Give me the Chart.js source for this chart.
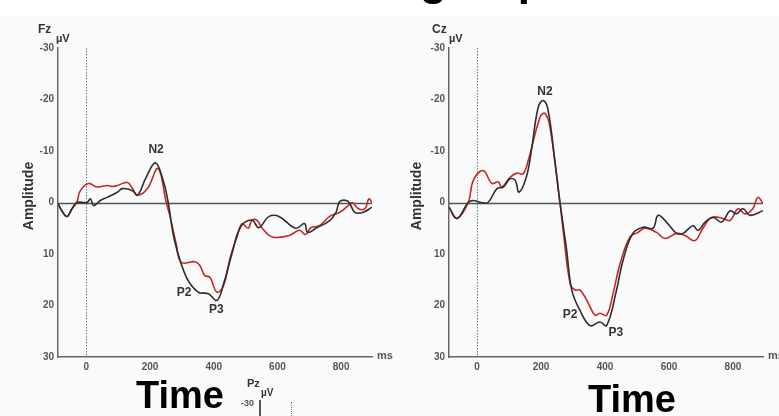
<!DOCTYPE html>
<html>
<head>
<meta charset="utf-8">
<script src="https://cdn.jsdelivr.net/npm/chart.js@4/dist/chart.umd.min.js"></script>
<style>
  body { margin:0; background:#fff; font-family:"Liberation Sans", Arial, sans-serif; }
  #wrap { position:relative; width:779px; height:416px; overflow:hidden; background:#fff; }
  #paper { position:absolute; left:0; top:16px; width:779px; height:400px; background:#fafafa; }
  canvas { position:absolute; top:0; }
  .t { position:absolute; white-space:nowrap; font-weight:bold; line-height:1; }
  .small { color:#333; font-size:12px; }
  .unit { color:#333; font-size:11px; }
  .big { color:#000; font-size:38px; }
  .amp { color:#333; font-size:14px; transform:rotate(-90deg); transform-origin:center; }
</style>
</head>
<body>
<div id="wrap">
  <div id="paper"></div>
  <canvas id="fzChart" width="390" height="376" style="left:0"></canvas>
  <canvas id="czChart" width="389" height="376" style="left:390px"></canvas>

  <div class="t big" style="left:420px; top:-42px; font-size:44px">group</div>

  <div class="t small" style="left:38px; top:23px">Fz</div>
  <div class="t unit" style="left:56px; top:33px">µV</div>
  <div class="t small" style="left:432px; top:23px">Cz</div>
  <div class="t unit" style="left:449px; top:33px">µV</div>

  <div class="t amp" style="left:-7px; top:189px; width:70px; text-align:center">Amplitude</div>
  <div class="t amp" style="left:381px; top:189px; width:70px; text-align:center">Amplitude</div>

  <div class="t unit" style="left:377px; top:350px; color:#555">ms</div>
  <div class="t unit" style="left:768px; top:350px; color:#555">ms</div>

  <div class="t big" style="left:136px; top:376px">Time</div>
  <div class="t big" style="left:588px; top:380px">Time</div>

  <div class="t unit" style="left:247px; top:378px">Pz</div>
  <div class="t" style="left:261px; top:388px; font-size:10px; color:#333">µV</div>
  <div class="t" style="left:241px; top:399px; font-size:9px; color:#555">-30</div>
  <div style="position:absolute; left:259px; top:400px; width:2px; height:16px; background:#555"></div>
  <div style="position:absolute; left:291px; top:402px; width:0; height:14px; border-left:1px dotted #777"></div>
</div>
<script>
// time axis ticks (ms) and amplitude ticks (µV, negative up)
const xTicks = [0, 200, 400, 600, 800];
const yTicks = [-30, -20, -10, 0, 10, 20, 30];
const peakLabels = ['N2', 'P2', 'P3'];

// Fz
const fzBlackTime = [-89,-75,-60,-45,-30,2,13,23,44,66,97,113,145,161,187,217,241,257,277,314,351,383,410,431,457,484,520,541,574,605,657,685,695,721,764,784,796,822,843,870,897];
const fzBlack = [0.2,1.8,2.7,1.2,0,0,-0.7,0.6,-0.4,-1,-2,-2.7,-2.3,-1.4,-4.8,-7.7,-4.3,0,7.4,14.5,17.4,17.7,19,15.8,10,4.8,3.4,4.9,2.7,2.7,5,4.1,5.8,5,3.5,1.9,-0.2,-0.2,1.9,1.9,0.9];
const fzRedTime = [-89,-75,-60,-45,-30,-19,7,34,66,81,97,129,145,161,192,225,251,262,282,298,341,356,372,388,410,431,452,473,489,508,520,537,552,584,637,669,688,705,732,764,796,822,835,854,875,887,897];
const fzRed = [0.2,1.8,2.7,1.2,0,-2.3,-3.7,-3,-3.3,-3.1,-3.3,-3.9,-2.7,-1.4,-2.7,-6.6,0,2.5,8,11.6,11.5,12.2,14.2,14.5,17.4,16.1,10.6,6.7,4.1,5,3.5,3.5,5,6.7,6.4,5.4,6.2,4.9,4.5,2.7,1.9,0.6,0,1.2,1.2,-0.7,0];

// Cz
const czBlackTime = [-88,-63,-28,-12,13,34,62,82,103,119,131,155,171,191,207,222,244,259,280,296,322,353,384,405,436,456,487,519,550,566,596,624,644,675,691,713,738,765,791,811,832,853,894];
const czBlack = [0.9,3.1,0,-0.4,0,0,-2.7,-3,-4.6,-4.3,-2,-5.2,-10.7,-18.5,-19.8,-17.9,-7.5,0,9.3,17,21,23.9,23.2,23.9,17,11.3,6,4.8,5,2.5,4.1,6,6,4.5,5.4,3.8,2.9,3.8,1.6,2.2,1.2,2.5,1.6];
const czRedTime = [-88,-63,-28,-12,19,46,66,77,103,124,144,160,197,212,228,259,269,291,306,322,343,369,384,405,425,447,478,503,525,561,587,624,650,681,706,733,769,791,816,838,862,878,894];
const czRed = [0.9,3.1,0,-4.3,-6.2,-3.7,-4,-3,-4.9,-5.7,-5.6,-8.2,-16.6,-17.3,-14.6,0,5.4,15.8,17,17,19,21.9,21.5,21.9,17.7,11.9,6.7,5.8,5,5.8,7,6,6.4,7.4,5,2.9,3.1,3.5,1.2,2.2,1.2,-1,0.2];

const FONT = '"Liberation Sans", Arial, sans-serif';

function pts(t, v) {
  return t.map((x, i) => ({x: x, y: v[i]}));
}

// zero line, stimulus onset line and component labels
const ergPlugin = {
  id: 'erg',
  beforeDatasetsDraw(chart, args, opts) {
    const ctx = chart.ctx, a = chart.chartArea;
    const xs = chart.scales.x, ys = chart.scales.y;
    ctx.save();
    ctx.strokeStyle = '#555';
    ctx.lineWidth = 1.3;
    const y0 = Math.round(ys.getPixelForValue(0)) + 0.5;
    ctx.beginPath(); ctx.moveTo(a.left, y0); ctx.lineTo(a.right, y0); ctx.stroke();
    ctx.strokeStyle = '#777';
    ctx.lineWidth = 1;
    ctx.setLineDash([1.5, 1.5]);
    const x0 = Math.round(xs.getPixelForValue(opts.onset)) + 0.5;
    ctx.beginPath(); ctx.moveTo(x0, a.top); ctx.lineTo(x0, a.bottom); ctx.stroke();
    ctx.restore();
  },
  afterDatasetsDraw(chart, args, opts) {
    const ctx = chart.ctx;
    ctx.save();
    ctx.font = 'bold 12px ' + FONT;
    ctx.fillStyle = '#333';
    ctx.textAlign = 'center';
    ctx.textBaseline = 'middle';
    peakLabels.forEach((s, i) => {
      ctx.fillText(s, chart.scales.x.getPixelForValue(opts.at[i][0]),
                      chart.scales.y.getPixelForValue(opts.at[i][1]));
    });
    ctx.restore();
  }
};

function makeChart(id, bt, bv, rt, rv, xmin, xmax, yw, padRight, at) {
  return new Chart(document.getElementById(id), {
    type: 'line',
    data: {
      datasets: [
        { label: 'black', data: pts(bt, bv), borderColor: '#2e2e2e', borderWidth: 1.6,
          pointRadius: 0, tension: 0.4, fill: false },
        { label: 'red', data: pts(rt, rv), borderColor: '#c62828', borderWidth: 1.6,
          pointRadius: 0, tension: 0.4, fill: false }
      ]
    },
    options: {
      responsive: false,
      animation: false,
      devicePixelRatio: 1,
      layout: { padding: { top: 48, right: padRight, left: 0, bottom: 0 } },
      plugins: { legend: { display: false }, tooltip: { enabled: false },
                 erg: { onset: 0, at: at } },
      scales: {
        x: {
          type: 'linear', min: xmin, max: xmax,
          afterBuildTicks: s => { s.ticks = xTicks.map(v => ({value: v})); },
          afterFit: s => { s.height = 19; },
          grid: { display: false, drawTicks: false },
          border: { display: true, color: '#666', width: 1.5 },
          ticks: { padding: 4, color: '#555', font: { family: FONT, size: 10, weight: 'bold' } }
        },
        y: {
          type: 'linear', min: -30, max: 30, reverse: true,
          afterBuildTicks: s => { s.ticks = yTicks.map(v => ({value: v})); },
          afterFit: s => { s.width = yw; },
          grid: { display: false, drawTicks: false },
          border: { display: true, color: '#666', width: 1.5 },
          ticks: { padding: 4, color: '#555', font: { family: FONT, size: 10, weight: 'bold' } }
        }
      }
    },
    plugins: [ergPlugin]
  });
}

makeChart('fzChart', fzBlackTime, fzBlack, fzRedTime, fzRed, -89, 897, 58, 18,
  [[219, -10.3], [307, 17.5], [408, 20.8]]);
makeChart('czChart', czBlackTime, czBlack, czRedTime, czRed, -88, 894, 59, 16,
  [[212, -21.6], [291, 21.7], [434, 25.2]]);
</script>
</body>
</html>
